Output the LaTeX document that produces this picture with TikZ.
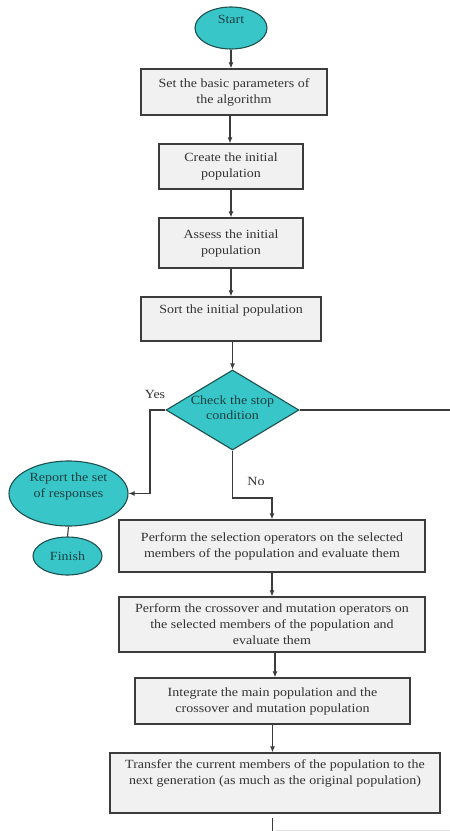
\documentclass[tikz,border=0pt]{standalone}
\usepackage{fontspec}
\setmainfont{Liberation Serif}[FakeStretch=1.12]
\usetikzlibrary{arrows.meta,shapes.geometric}
\definecolor{teal1}{RGB}{56,198,200}
\definecolor{tealdark}{RGB}{30,80,80}
\definecolor{boxfill}{RGB}{241,241,241}
\definecolor{edge}{RGB}{60,60,60}
\tikzset{
  every node/.style={font=\fontsize{12.5}{16}\selectfont},
  stepbox/.style={draw=edge, line width=1.3pt, fill=boxfill, rectangle, align=center, inner sep=2pt, text=black!80},
  term/.style={draw=tealdark, line width=1.1pt, fill=teal1, ellipse, inner sep=0pt, align=center, text=tealdark!80!black},
  decide/.style={draw=tealdark, line width=1.1pt, fill=teal1, diamond, inner sep=0pt},
  intext/.style={align=center, text=tealdark!80!black, inner sep=0pt},
  conn/.style={draw=edge, line width=1.1pt, -{Latex[length=6pt,width=5pt]}},
  plain/.style={draw=edge, line width=1.1pt},
  lbl/.style={text=black!80}
}
\begin{document}
\begin{tikzpicture}[x=1pt,y=1pt]
\useasboundingbox (0,0) rectangle (450,-831);
% shapes
\node[term, minimum width=72pt, minimum height=42pt, text depth=18pt] (start) at (231,-28) {Start};
\node[stepbox, minimum width=186pt, minimum height=46pt] (b1) at (234,-92) {Set the basic parameters of\\the algorithm};
\node[stepbox, minimum width=144pt, minimum height=45pt] (b2) at (231,-166.5) {Create the initial\\population};
\node[stepbox, minimum width=144pt, minimum height=50pt] (b3) at (231,-243) {Assess the initial\\population};
\node[stepbox, minimum width=180pt, minimum height=44pt, text depth=19pt] (b4) at (231,-319) {Sort the initial population};
\node[decide, minimum width=133pt, minimum height=80pt,
  label={[intext, yshift=2pt]center:Check the stop\\[-1pt]condition}] (dec) at (232.5,-410) {};
\node[term, minimum width=119pt, minimum height=65pt,
  label={[intext, yshift=7pt]center:Report the set\\of responses}] (rep) at (68.5,-493.5) {};
\node[term, minimum width=69pt, minimum height=38pt] (fin) at (67.5,-556) {Finish};
\node[stepbox, minimum width=306pt, minimum height=52pt] (b5) at (272,-546) {Perform the selection operators on the selected\\members of the population and evaluate them};
\node[stepbox, minimum width=306pt, minimum height=55pt] (b6) at (272,-624.5) {Perform the crossover and mutation operators on\\the selected members of the population and\\evaluate them};
\node[stepbox, minimum width=275pt, minimum height=46pt] (b7) at (272.5,-701) {Integrate the main population and the\\crossover and mutation population};
\node[stepbox, minimum width=330pt, minimum height=60pt, text depth=22pt] (b8) at (275,-783) {Transfer the current members of the population to the\\next generation (as much as the original population)};
% labels
\node[lbl] (yes) at (155,-394) {Yes};
\node[lbl] (no) at (256,-481) {No};
% coordinates
\coordinate (yesc) at (150,-410);
\coordinate (noc) at (232.5,-498);
\coordinate (righte) at (450,-410);
\coordinate (nexttop) at (272.5,-818);
\coordinate (nextbot) at (272.5,-831);
\coordinate (faintl) at (276,-830);
\coordinate (faintr) at (450,-830);
% connectors
\draw[conn] (start.south) -- (start.south |- b1.north);
\draw[conn] ([xshift=-4pt]b1.south) -- ([xshift=-4pt]b1.south |- b2.north);
\draw[conn] (b2.south) -- (b3.north);
\draw[conn] (b3.south) -- (b3.south |- b4.north);
\draw[conn] (b4.south -| dec.north) -- (dec.north);
\draw[conn] (dec.west) -- (yesc) |- (rep.east);
\draw[plain] (dec.east) -- (righte);
\draw[plain] (rep.south) -- (fin.north);
\draw[conn] (dec.south) -- (noc) -| (b5.north);
\draw[conn] (b5.south) -- (b6.north);
\draw[conn] (b6.south -| 275,0) -- (b7.north -| 275,0);
\draw[conn] (b7.south) -- (b7.south |- b8.north);
\draw[plain] (nexttop) -- (nextbot);
\draw[black!12, line width=0.8pt] (faintl) -- (faintr);
\end{tikzpicture}
\end{document}
